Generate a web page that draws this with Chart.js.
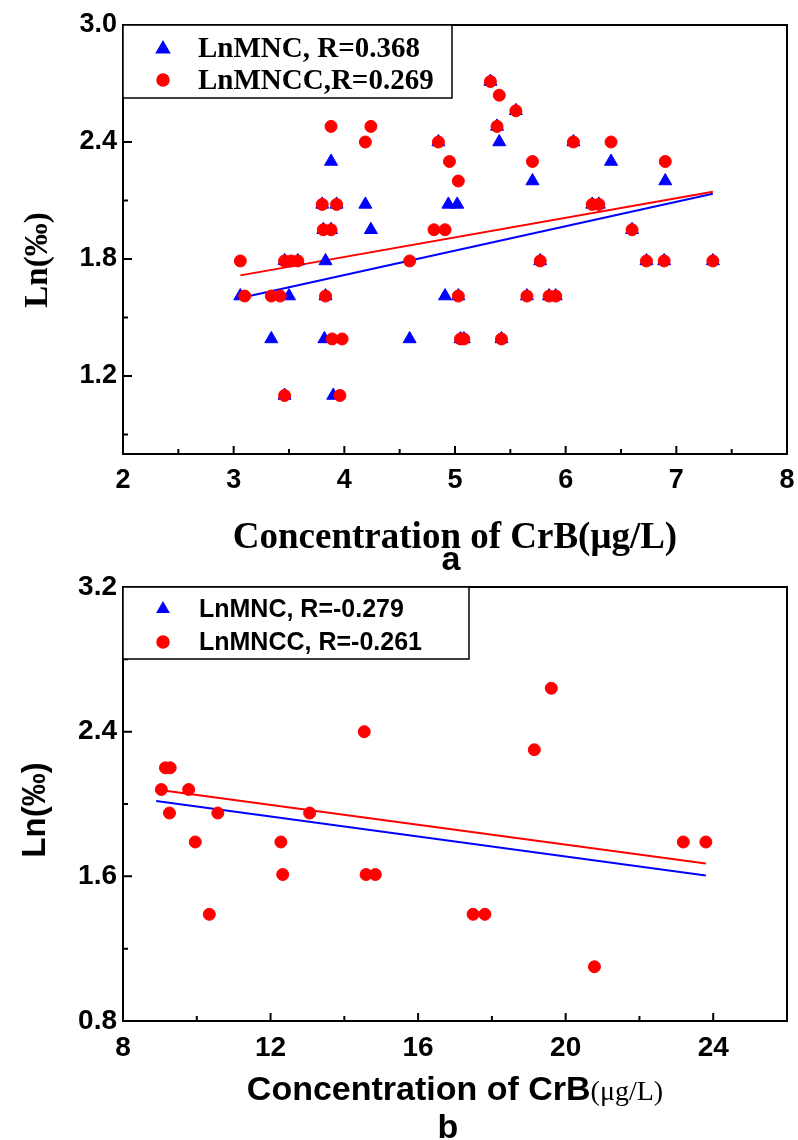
<!DOCTYPE html>
<html>
<head>
<meta charset="utf-8">
<script src="https://cdn.jsdelivr.net/npm/chart.js@4.4.1/dist/chart.umd.min.js"></script>
<style>
  html, body { margin: 0; padding: 0; background: #fff; }
  #wrap { position: relative; width: 798px; height: 1140px; }
  canvas { position: absolute; left: 0; }
  #ca { top: 0; }
  #cb { top: 575px; }
</style>
</head>
<body>
<div id="wrap">
  <canvas id="ca" width="798" height="575"></canvas>
  <canvas id="cb" width="798" height="565"></canvas>
</div>
<script>
// ---- panel a ----
const mncXA = [3.06, 3.34, 3.46, 3.50, 3.46, 3.58, 3.80, 3.93, 3.81, 3.88, 3.83, 3.83, 3.82, 3.90, 3.88,
  4.19, 4.24, 4.59, 4.85, 4.91, 4.94, 5.02, 5.03, 5.05, 5.08, 5.32, 5.38, 5.40, 5.55, 5.42,
  5.65, 5.70, 5.77, 5.85, 5.91, 6.07, 6.24, 6.30, 6.41, 6.60, 6.73, 6.89, 6.90, 7.33];
const mncYA = [1.61, 1.39, 1.10, 1.61, 1.79, 1.79, 2.08, 2.08, 1.95, 1.95, 1.79, 1.61, 1.39, 1.10, 2.30,
  2.08, 1.95, 1.39, 2.40, 1.61, 2.08, 2.08, 1.61, 1.39, 1.39, 2.71, 2.48, 2.40, 2.56, 1.39,
  1.61, 2.20, 1.79, 1.61, 1.61, 2.40, 2.08, 2.08, 2.30, 1.95, 1.79, 1.79, 2.20, 1.79];
const mnccXA = [3.06, 3.10, 3.34, 3.42, 3.46, 3.46, 3.52, 3.58, 3.80, 3.93, 3.81, 3.88, 3.83, 3.88, 3.89,
  3.98, 3.96, 4.19, 4.24, 4.59, 4.81, 4.91, 4.85, 4.95, 5.03, 5.03, 5.05, 5.08, 5.32, 5.40,
  5.55, 5.38, 5.42, 5.65, 5.70, 5.77, 5.85, 5.91, 6.07, 6.24, 6.30, 6.41, 6.60, 6.73, 6.89,
  6.90, 7.33];
const mnccYA = [1.79, 1.61, 1.61, 1.61, 1.10, 1.79, 1.79, 1.79, 2.08, 2.08, 1.95, 1.95, 1.61, 2.48, 1.39,
  1.39, 1.10, 2.40, 2.48, 1.79, 1.95, 1.95, 2.40, 2.30, 2.20, 1.61, 1.39, 1.39, 2.71, 2.64,
  2.56, 2.48, 1.39, 1.61, 2.30, 1.79, 1.61, 1.61, 2.40, 2.08, 2.08, 2.40, 1.95, 1.79, 1.79,
  2.30, 1.79];
const fitMncXA = [3.06, 7.33], fitMncYA = [1.60, 2.135];
const fitMnccXA = [3.06, 7.33], fitMnccYA = [1.716, 2.145];
const xTicksA = [2, 3, 4, 5, 6, 7, 8], xMinorA = [2.5, 3.5, 4.5, 5.5, 6.5, 7.5];
const yTicksA = [1.2, 1.8, 2.4, 3.0], yMinorA = [0.9, 1.5, 2.1, 2.7];

// ---- panel b ----
const mncXB = [], mncYB = [];
const mnccXB = [9.04, 9.15, 9.28, 9.26, 9.78, 9.96, 10.34, 10.57, 12.28, 12.33, 13.06, 14.54, 14.59, 14.84,
  17.49, 17.81, 19.15, 19.61, 20.78, 23.19, 23.80];
const mnccYB = [2.08, 2.20, 2.20, 1.95, 2.08, 1.79, 1.39, 1.95, 1.79, 1.61, 1.95, 2.40, 1.61, 1.61,
  1.39, 1.39, 2.30, 2.64, 1.10, 1.79, 1.79];
const fitMncXB = [8.9, 23.8], fitMncYB = [2.016, 1.604];
const fitMnccXB = [9.0, 23.8], fitMnccYB = [2.078, 1.671];
const xTicksB = [8, 12, 16, 20, 24], xMinorB = [10, 14, 18, 22];
const yTicksB = [0.8, 1.6, 2.4, 3.2], yMinorB = [1.2, 2.0, 2.8];

const BLUE = '#0000ff', RED = '#ff0000';
const SANS = "'Liberation Sans', Arial, sans-serif";
const SERIF = "'Liberation Serif', 'Times New Roman', serif";

function pts(xs, ys) { return xs.map((x, i) => ({ x: x, y: ys[i] })); }

// frame, inward ticks, legend box and titles
const decor = {
  id: 'decor',
  afterDatasetsDraw(chart, args, o) {
    const ctx = chart.ctx, a = chart.chartArea;
    const sx = chart.scales.x, sy = chart.scales.y;
    ctx.save();
    ctx.strokeStyle = '#000';
    ctx.lineWidth = 2;
    ctx.strokeRect(a.left, a.top, a.right - a.left, a.bottom - a.top);
    ctx.beginPath();
    o.xMajor.forEach(v => { const p = sx.getPixelForValue(v); ctx.moveTo(p, a.bottom); ctx.lineTo(p, a.bottom - 8); });
    o.xMinor.forEach(v => { const p = sx.getPixelForValue(v); ctx.moveTo(p, a.bottom); ctx.lineTo(p, a.bottom - 5); });
    o.yMajor.forEach(v => { const p = sy.getPixelForValue(v); ctx.moveTo(a.left, p); ctx.lineTo(a.left + 9, p); });
    o.yMinor.forEach(v => { const p = sy.getPixelForValue(v); ctx.moveTo(a.left, p); ctx.lineTo(a.left + 5, p); });
    ctx.stroke();

    // legend
    const L = o.legend;
    ctx.fillStyle = '#fff';
    ctx.fillRect(L.box[0], L.box[1], L.box[2] - L.box[0], L.box[3] - L.box[1]);
    ctx.lineWidth = 1.5;
    ctx.strokeRect(L.box[0], L.box[1], L.box[2] - L.box[0], L.box[3] - L.box[1]);
    L.items.forEach(it => {
      ctx.fillStyle = it.color;
      ctx.strokeStyle = it.color;
      Chart.helpers.drawPoint(ctx, { pointStyle: it.style, radius: it.r, rotation: 0, borderWidth: 1 }, L.mx, it.y);
      ctx.fillStyle = '#000';
      ctx.font = L.font;
      ctx.textAlign = 'left';
      ctx.textBaseline = 'alphabetic';
      ctx.fillText(it.text, L.tx, it.base);
    });

    // titles
    ctx.fillStyle = '#000';
    o.texts.forEach(t => {
      ctx.save();
      ctx.font = t.font;
      ctx.textBaseline = 'alphabetic';
      ctx.translate(t.x, t.y);
      if (t.rot) ctx.rotate(t.rot);
      if (t.parts) {
        let w = 0;
        t.parts.forEach(p => { ctx.font = p.font; w += ctx.measureText(p.text).width; });
        let cx = -w / 2;
        ctx.textAlign = 'left';
        t.parts.forEach(p => { ctx.font = p.font; ctx.fillText(p.text, cx, 0); cx += ctx.measureText(p.text).width; });
      } else {
        ctx.textAlign = 'center';
        ctx.fillText(t.text, 0, 0);
      }
      ctx.restore();
    });
    ctx.restore();
  }
};

function makeChart(id, cfg) {
  const H = document.getElementById(id).height;
  return new Chart(document.getElementById(id), {
    type: 'scatter',
    data: {
      datasets: [
        { label: 'LnMNCC', data: pts(cfg.redX, cfg.redY), pointStyle: 'circle', pointRadius: 6,
          backgroundColor: RED, borderColor: RED, borderWidth: 1, order: 0 },
        { label: 'LnMNC', data: pts(cfg.blueX, cfg.blueY), pointStyle: 'triangle', pointRadius: 7.5,
          backgroundColor: BLUE, borderColor: BLUE, borderWidth: 1, order: 1 },
        { type: 'line', label: 'fit MNCC', data: pts(cfg.fitRedX, cfg.fitRedY), borderColor: RED,
          borderWidth: 2, pointRadius: 0, fill: false, order: 2 },
        { type: 'line', label: 'fit MNC', data: pts(cfg.fitBlueX, cfg.fitBlueY), borderColor: BLUE,
          borderWidth: 2, pointRadius: 0, fill: false, order: 3 }
      ]
    },
    options: {
      responsive: false,
      animation: false,
      layout: { padding: { top: cfg.top, right: 11, left: 0, bottom: 0 } },
      plugins: {
        legend: { display: false },
        tooltip: { enabled: false },
        decor: cfg.decor
      },
      scales: {
        x: {
          type: 'linear', min: cfg.xMin, max: cfg.xMax,
          afterBuildTicks: s => { s.ticks = cfg.xTicks.map(v => ({ value: v })); },
          afterFit: s => { s.height = H - cfg.bottom; s.paddingLeft = 0; s.paddingRight = 0; },
          grid: { display: false, drawTicks: false },
          border: { display: false },
          ticks: { color: '#000', padding: 10, font: { family: SANS, weight: 'bold', size: cfg.tickSize },
            callback: v => String(v) }
        },
        y: {
          type: 'linear', min: cfg.yMin, max: cfg.yMax,
          afterBuildTicks: s => { s.ticks = cfg.yTicks.map(v => ({ value: v })); },
          afterFit: s => { s.width = 123; s.paddingTop = 0; s.paddingBottom = 0; },
          grid: { display: false, drawTicks: false },
          border: { display: false },
          ticks: { color: '#000', padding: 6, font: { family: SANS, weight: 'bold', size: cfg.tickSize },
            callback: v => Number(v).toFixed(1) }
        }
      }
    },
    plugins: [decor]
  });
}

makeChart('ca', {
  redX: mnccXA, redY: mnccYA, blueX: mncXA, blueY: mncYA,
  fitRedX: fitMnccXA, fitRedY: fitMnccYA, fitBlueX: fitMncXA, fitBlueY: fitMncYA,
  xMin: 2, xMax: 8, yMin: 0.8, yMax: 3.0, xTicks: xTicksA, yTicks: yTicksA,
  top: 25, bottom: 454, tickSize: 27,
  decor: {
    xMajor: xTicksA, xMinor: xMinorA, yMajor: yTicksA, yMinor: yMinorA,
    legend: {
      box: [123, 25, 452, 98], mx: 163, tx: 198, font: 'bold 29px ' + SERIF,
      items: [
        { style: 'triangle', r: 7.5, color: BLUE, y: 49, base: 57, text: 'LnMNC, R=0.368' },
        { style: 'circle', r: 6, color: RED, y: 80, base: 88.5, text: 'LnMNCC,R=0.269' }
      ]
    },
    texts: [
      { text: 'Ln(‰)', font: 'bold 33px ' + SERIF, x: 47, y: 260, rot: -Math.PI / 2 },
      { text: 'Concentration of CrB(μg/L)', font: 'bold 37px ' + SERIF, x: 455, y: 548 },
      { text: 'a', font: 'bold 34px ' + SANS, x: 451, y: 570 }
    ]
  }
});

makeChart('cb', {
  redX: mnccXB, redY: mnccYB, blueX: mncXB, blueY: mncYB,
  fitRedX: fitMnccXB, fitRedY: fitMnccYB, fitBlueX: fitMncXB, fitBlueY: fitMncYB,
  xMin: 8, xMax: 26, yMin: 0.8, yMax: 3.2, xTicks: xTicksB, yTicks: yTicksB,
  top: 12, bottom: 446, tickSize: 28,
  decor: {
    xMajor: xTicksB, xMinor: xMinorB, yMajor: yTicksB, yMinor: yMinorB,
    legend: {
      box: [123, 12, 469, 84], mx: 163, tx: 199, font: 'bold 25px ' + SANS,
      items: [
        { style: 'triangle', r: 6.5, color: BLUE, y: 34, base: 42, text: 'LnMNC, R=-0.279' },
        { style: 'circle', r: 6, color: RED, y: 67, base: 75, text: 'LnMNCC, R=-0.261' }
      ]
    },
    texts: [
      { text: 'Ln(‰)', font: 'bold 33px ' + SANS, x: 45, y: 235, rot: -Math.PI / 2 },
      { parts: [
          { text: 'Concentration of CrB', font: 'bold 34px ' + SANS },
          { text: '(μg/L)', font: '28px ' + SERIF }
        ], x: 455, y: 525 },
      { text: 'b', font: 'bold 34px ' + SANS, x: 448, y: 563 }
    ]
  }
});
</script>
</body>
</html>
